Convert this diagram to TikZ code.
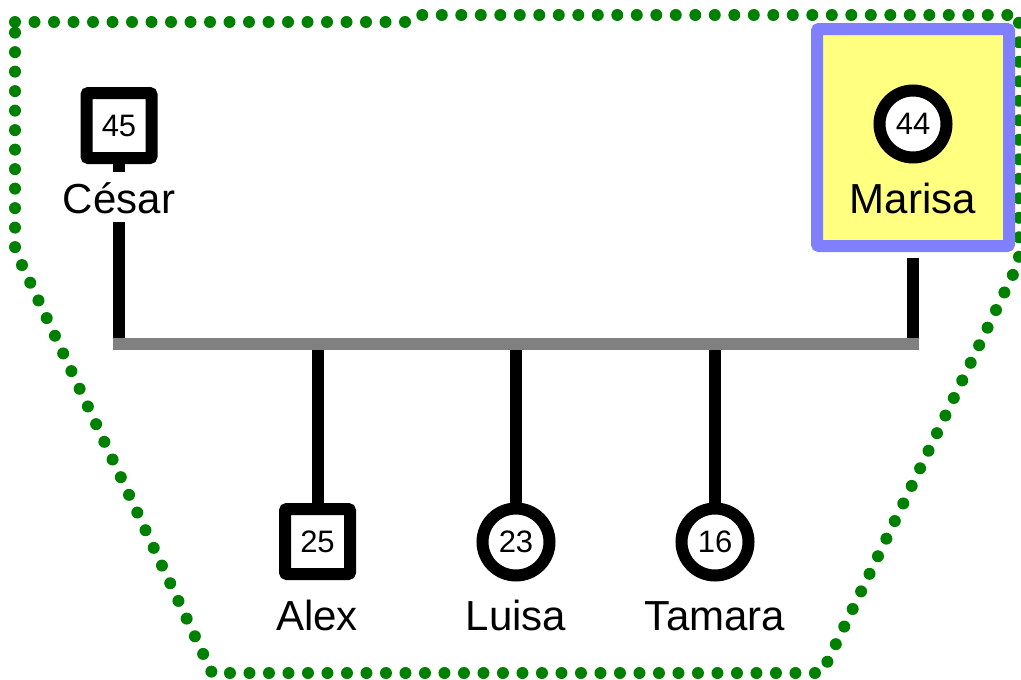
\documentclass[tikz,border=0pt]{standalone}
\usepackage{fontspec}
\setmainfont{Liberation Sans}
\definecolor{hullgreen}{HTML}{008000}
\definecolor{boxblue}{HTML}{8080FF}
\definecolor{boxyellow}{HTML}{FFFF80}
\definecolor{bargray}{HTML}{808080}
\begin{document}
\begin{tikzpicture}[x=1pt,y=-1pt,
  malebox/.style={draw=black, line width=12pt, rectangle, rounded corners=2pt,
    minimum size=65pt, inner sep=0pt, fill=white, font=\fontsize{31}{31}\selectfont},
  femalebox/.style={draw=black, line width=12pt, circle,
    minimum size=67pt, inner sep=0pt, fill=white, font=\fontsize{31}{31}\selectfont},
  personname/.style={font=\fontsize{42}{42}\selectfont, inner sep=0pt,
    text height=41pt, text depth=9pt, anchor=base},
  link/.style={line width=12pt, draw=black},
  sibbar/.style={line width=12pt, draw=bargray, line cap=rect},
  hull/.style={draw=hullgreen, line width=12pt, line cap=round, line join=round,
    dash pattern=on 0pt off 19.5pt},
  focusbox/.style={draw=boxblue, fill=boxyellow, line width=12pt, rectangle,
    rounded corners=2pt, minimum width=192pt, minimum height=217pt, inner sep=0pt}]
\useasboundingbox (0,0) rectangle (1021,680);
% group hull
\draw[hull] (15,22) -- (405,22) -- (415,15) -- (1019,15) -- (1019,262)
  -- (822,673) -- (212,673) -- (15,250) -- cycle;
% parents
\node[malebox] (cesar) at (119,125.5) {45};
\node[personname] (cesarname) at (119,213) {César};
\node[focusbox] (marisa) at (913,137.5) {};
\node[femalebox] (m44) at (913,124) {44};
\node[personname] (marisaname) at (913,213) {Marisa};
% children
\node[malebox] (alex) at (317.5,541.5) {25};
\node[femalebox] (luisa) at (516,542) {23};
\node[femalebox] (tamara) at (715,542) {16};
\node[personname] (alexname) at (317,630) {Alex};
\node[personname] (luisaname) at (516,630) {Luisa};
\node[personname] (tamaraname) at (715,630) {Tamara};
% junctions
\coordinate (bl) at (119,343.5);
\coordinate (br) at (913,343.5);
\coordinate (j1) at (317.5,343.5);
\coordinate (j2) at (516,343.5);
\coordinate (j3) at (715,343.5);
% connectors
\draw[link] (cesar) -- (cesarname);
\draw[link] (cesarname) -- (bl);
\draw[link, shorten <=6pt] (marisa) -- (br);
\draw[link] (j1) -- (alex);
\draw[link] (j2) -- (luisa);
\draw[link] (j3) -- (tamara);
\draw[sibbar] (bl) -- (br);
\end{tikzpicture}
\end{document}
